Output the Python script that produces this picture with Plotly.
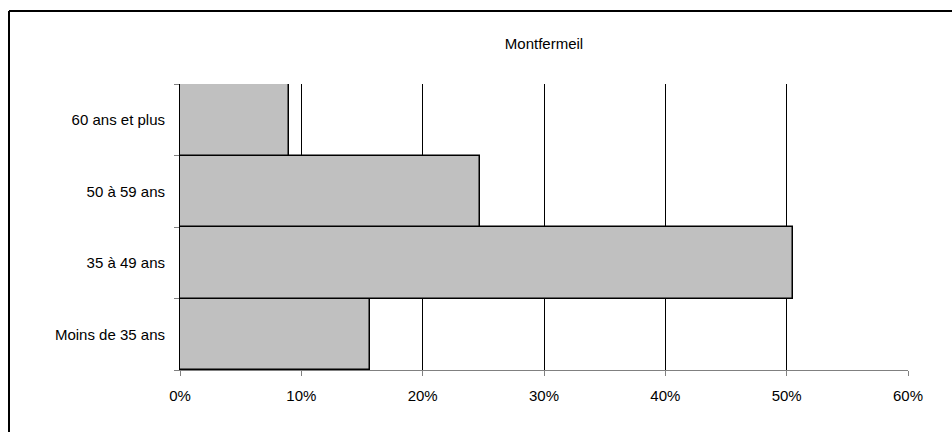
import plotly.graph_objects as go

# Répartition par âge — Montfermeil
categories = ["Moins de 35 ans", "35 à 49 ans", "50 à 59 ans", "60 ans et plus"]
shares = [15.7, 50.5, 24.7, 9.0]
x_ticks = [0, 10, 20, 30, 40, 50, 60]
x_tick_labels = ["0%", "10%", "20%", "30%", "40%", "50%", "60%"]

FONT = "Liberation Sans Narrow, Arial Narrow, Liberation Sans, Arial, sans-serif"

fig = go.Figure(
    go.Bar(
        y=categories,
        x=shares,
        orientation="h",
        marker=dict(color="#C0C0C0", line=dict(color="black", width=1.5)),
        hoverinfo="x+y",
    )
)

fig.update_layout(
    width=952,
    height=432,
    margin=dict(l=180, r=44, t=84, b=62),
    paper_bgcolor="white",
    plot_bgcolor="white",
    bargap=0,
    showlegend=False,
    font=dict(family=FONT, size=15, color="black"),
    title=dict(
        text="Montfermeil",
        x=(180 + 908) / 2 / 952,
        xanchor="center",
        y=1 - 44 / 432,
        yanchor="middle",
        font=dict(family=FONT, size=15, color="black"),
    ),
    shapes=[
        # cadre du graphique (bords gauche et haut)
        dict(type="line", xref="paper", yref="paper",
             x0=-171 / 728, x1=772 / 728, y0=(432 - 62 - 11) / 286, y1=(432 - 62 - 11) / 286,
             line=dict(color="black", width=2)),
        dict(type="line", xref="paper", yref="paper",
             x0=-171 / 728, x1=-171 / 728, y0=-62 / 286, y1=(432 - 62 - 11) / 286,
             line=dict(color="black", width=2)),
    ],
)

fig.update_xaxes(
    range=[0, 60],
    tickvals=x_ticks,
    ticktext=x_tick_labels,
    showgrid=True,
    gridcolor="black",
    gridwidth=1,
    showline=True,
    linecolor="#808080",
    linewidth=1,
    ticks="outside",
    ticklen=5,
    tickcolor="#808080",
    ticklabelstandoff=7,
    zeroline=False,
    fixedrange=True,
)

fig.update_yaxes(
    type="category",
    categoryorder="array",
    categoryarray=categories,
    range=[-0.5, 3.5],
    tickson="boundaries",
    ticks="outside",
    ticklen=5,
    tickcolor="#808080",
    showline=True,
    linecolor="black",
    linewidth=1,
    showgrid=False,
    ticklabelstandoff=11,
    fixedrange=True,
)

fig.write_html("out.html")
